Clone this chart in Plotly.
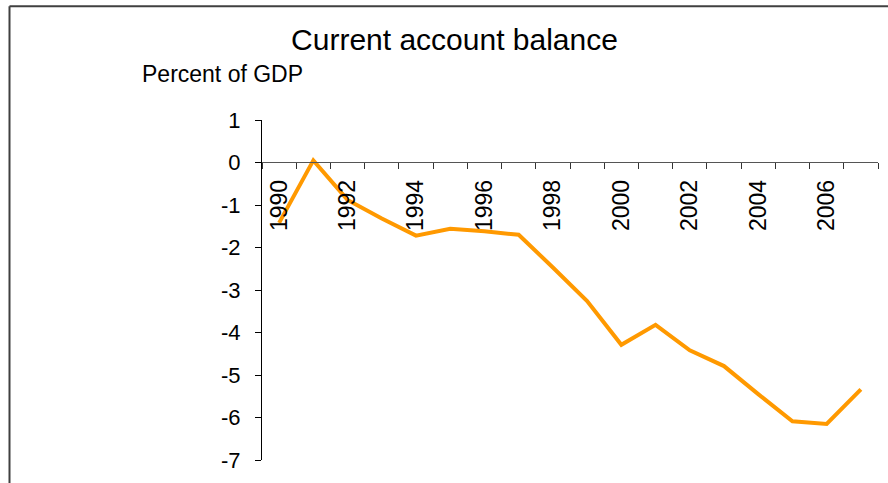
import plotly.graph_objects as go

years = list(range(1990, 2008))
balance = [-1.42, 0.05, -0.88, -1.32, -1.72, -1.56, -1.62, -1.70, -2.47, -3.26,
           -4.29, -3.82, -4.42, -4.79, -5.45, -6.09, -6.15, -5.34]
label_years = [1990, 1992, 1994, 1996, 1998, 2000, 2002, 2004, 2006]
label_text = [str(y) for y in label_years]
y_ticks = [1, 0, -1, -2, -3, -4, -5, -6, -7]

W, H = 888, 483
L, R, T, B = 262, 10, 120, 21
pw, ph = W - L - R, H - T - B

def px(x):
    return (x - L) / pw

def py(y):
    return (H - B - y) / ph

FONT = "Liberation Sans, Arial, sans-serif"

fig = go.Figure()
fig.add_trace(go.Scatter(x=years, y=balance, mode="lines",
                         line=dict(color="#FF9900", width=4), showlegend=False,
                         hoverinfo="x+y"))

fig.update_layout(
    width=W, height=H,
    margin=dict(l=L, r=R, t=T, b=B),
    paper_bgcolor="white", plot_bgcolor="white",
    font=dict(family=FONT, color="black", size=22),
    title=dict(text="Current account balance", x=454.5 / W, xanchor="center",
               xref="container", yref="container", y=1 - 39 / H, yanchor="middle",
               font=dict(family=FONT, size=30, color="black")),
    xaxis=dict(range=[1989.5, 2007.5], anchor="free", position=py(162),
               showline=True, linecolor="#555555", linewidth=1,
               tickmode="array", tickvals=label_years, ticktext=label_text,
               tickangle=-90, ticks="outside", ticklen=0, tickcolor="#555555",
               ticklabelstandoff=8,
               minor=dict(tickmode="array",
                          tickvals=[y - 0.5 for y in years] + [years[-1] + 0.5],
                          ticks="outside", ticklen=6, tickcolor="#333333", tickwidth=1),
               showgrid=False, zeroline=False,
               tickfont=dict(family=FONT, size=23, color="black")),
    yaxis=dict(range=[-7, 1], tickmode="array", tickvals=y_ticks,
               ticktext=[str(v) for v in y_ticks],
               showline=True, linecolor="black", linewidth=1,
               ticks="outside", ticklen=6, tickcolor="black",
               ticklabelstandoff=10,
               showgrid=False, zeroline=False,
               tickfont=dict(family=FONT, size=22, color="black")),
    annotations=[dict(text="Percent of GDP", xref="paper", yref="paper",
                      x=px(140), y=py(74), xanchor="left", yanchor="middle",
                      showarrow=False, font=dict(family=FONT, size=23, color="black"))],
    shapes=[
        dict(type="line", xref="paper", yref="paper", x0=px(9.5), x1=px(9.5),
             y0=py(5.5), y1=py(490), line=dict(color="#404040", width=2)),
        dict(type="line", xref="paper", yref="paper", x0=px(9.5), x1=px(895),
             y0=py(5.5), y1=py(5.5), line=dict(color="#404040", width=2)),
    ],
)

fig.write_html("out.html", config={"displayModeBar": False},
               post_script="document.body.style.margin='0';document.body.style.overflow='hidden';")
